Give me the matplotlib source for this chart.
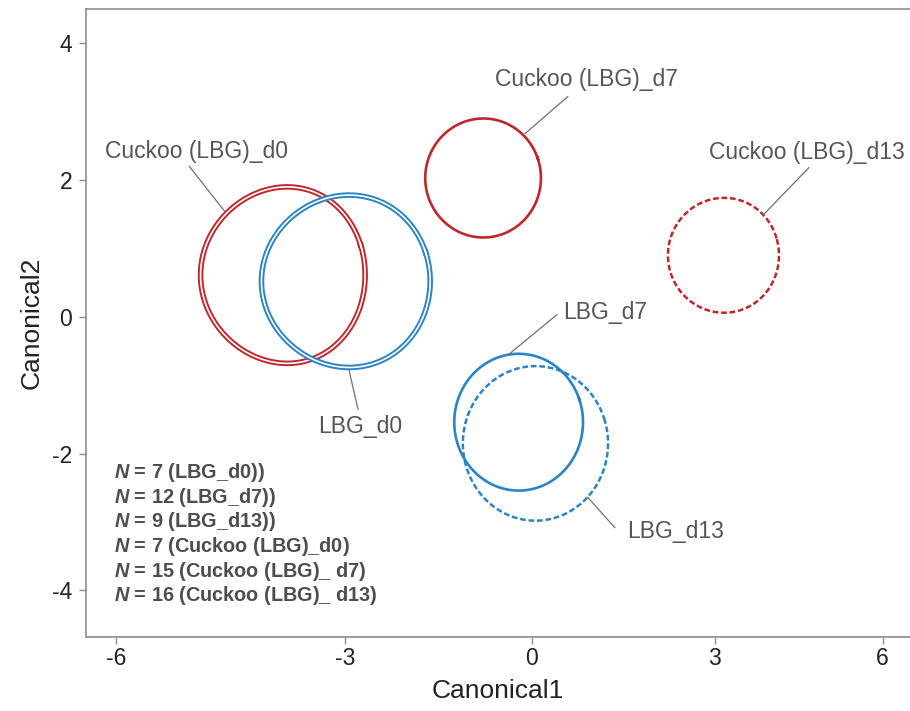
import numpy as np
import matplotlib
matplotlib.use("Agg")
import matplotlib.pyplot as plt

plt.rcParams["font.family"] = ["Liberation Sans", "DejaVu Sans"]
plt.rcParams["mathtext.fontset"] = "custom"
plt.rcParams["mathtext.it"] = "Liberation Sans:bold:italic"

# ellipse data (canonical scores: centre and half-widths)
groups = ["Cuckoo (LBG)_d0", "LBG_d0", "Cuckoo (LBG)_d7",
          "Cuckoo (LBG)_d13", "LBG_d7", "LBG_d13"]
cx = [-3.85, -2.935, -0.795, 3.155, -0.215, 0.06]
cy = [0.61, 0.52, 2.03, 0.90, -1.54, -1.85]
rx = [1.16, 1.275, 0.945, 0.925, 1.055, 1.19]
ry = [1.29, 1.26, 0.87, 0.84, 1.00, 1.13]

# label text anchors and leader line ends
label_x = [-6.12, -3.40, -0.61, 2.90, 0.51, 1.56]
label_y = [2.42, -1.60, 3.47, 2.40, 0.06, -3.14]
lead_x0 = [-5.15, -2.94, 0.59, 4.60, 0.41, 0.92]
lead_y0 = [2.20, -0.77, 3.22, 2.18, 0.03, -2.64]
lead_x1 = [-4.70, -2.80, -0.11, 3.80, -0.38, 1.36]
lead_y1 = [1.54, -1.35, 2.68, 1.48, -0.55, -3.08]

n_lines = [
    r"$N$ = 7 (LBG_d0))",
    r"$N$ = 12 (LBG_d7))",
    r"$N$ = 9 (LBG_d13))",
    r"$N$ = 7 (Cuckoo (LBG)_d0)",
    r"$N$ = 15 (Cuckoo (LBG)_ d7)",
    r"$N$ = 16 (Cuckoo (LBG)_ d13)",
]

xticks = [-6, -3, 0, 3, 6]
yticks = [-4, -2, 0, 2, 4]

RED = "#c0272d"
BLUE = "#2b84c6"
colors = [RED, BLUE, RED, RED, BLUE, BLUE]
styles = ["double", "double", "solid", "dashed", "solid", "dashed"]

# the printed x axis is not evenly spaced: smooth monotone mapping
brk_d = np.array([-6.0, -3.0, 0.0, 3.0, 6.0])
brk_p = np.array([116.0, 345.0, 532.0, 715.0, 883.0])
coef = np.polyfit(brk_d, brk_p, 4)
dcoef = np.polyder(coef)
LO, HI = -7.0, 7.5
grid = np.linspace(LO, HI, 2001)
grid_p = np.polyval(coef, grid)


def fwd(v):
    v = np.asarray(v, dtype=float)
    out = np.polyval(coef, np.clip(v, LO, HI))
    out = np.where(v < LO, grid_p[0] + (v - LO) * np.polyval(dcoef, LO), out)
    out = np.where(v > HI, grid_p[-1] + (v - HI) * np.polyval(dcoef, HI), out)
    return out


def inv(p):
    p = np.asarray(p, dtype=float)
    out = np.interp(p, grid_p, grid)
    out = np.where(p < grid_p[0], LO + (p - grid_p[0]) / np.polyval(dcoef, LO), out)
    out = np.where(p > grid_p[-1], HI + (p - grid_p[-1]) / np.polyval(dcoef, HI), out)
    return out


fig = plt.figure(figsize=(9.1, 7.11), dpi=100)
ax = fig.add_axes([0.0945, 0.1041, 0.9055, 0.8832])
ax.set_xscale("function", functions=(fwd, inv))

# solid outlines run a little past a full turn so the ends overlap cleanly
t_solid = np.linspace(0.3, 0.3 + 2 * np.pi + 0.08, 620)
t_dash = np.linspace(0.3, 0.3 + 2 * np.pi, 600)
for i in range(len(groups)):
    t = t_dash if styles[i] == "dashed" else t_solid
    x = cx[i] + rx[i] * np.cos(t)
    y = cy[i] + ry[i] * np.sin(t)
    if styles[i] == "double":
        ax.plot(x, y, color=colors[i], lw=4.0, solid_capstyle="butt")
        ax.plot(x, y, color="white", lw=1.2, solid_capstyle="butt")
    elif styles[i] == "dashed":
        ax.plot(x, y, color=colors[i], lw=1.8, dashes=(2.3, 1.1))
    else:
        ax.plot(x, y, color=colors[i], lw=1.9, solid_capstyle="butt")

    ax.plot([lead_x0[i], lead_x1[i]], [lead_y0[i], lead_y1[i]],
            color="#707070", lw=0.9)
    ax.text(label_x[i], label_y[i], groups[i], fontsize=16.5,
            color="#555555", ha="left", va="center")

for k, s in enumerate(n_lines):
    ax.text(0.034, 0.262 - k * 0.0393, s, transform=ax.transAxes,
            fontsize=14.3, fontweight="bold", color="#4d4d4d",
            ha="left", va="center")

ax.set_xlim(-6.32, 6.6)
ax.set_ylim(-4.68, 4.50)
ax.set_xticks(xticks)
ax.set_xticklabels([str(v) for v in xticks])
ax.set_yticks(yticks)
ax.set_yticklabels([str(v) for v in yticks])
ax.minorticks_off()

for side in ["left", "bottom", "top"]:
    ax.spines[side].set_color("#8c8c8c")
    ax.spines[side].set_linewidth(1.2)
ax.spines["right"].set_visible(False)
ax.tick_params(axis="both", direction="out", length=5, width=1,
               color="#8c8c8c", labelsize=16.5, labelcolor="#222222")
ax.tick_params(axis="x", pad=2)
ax.tick_params(axis="y", pad=5)

ax.set_xlabel("Canonical1", fontsize=19, color="#222222", labelpad=7)
ax.set_ylabel("Canonical2", fontsize=19, color="#222222", labelpad=6)

fig.savefig("out.png", dpi=100)
